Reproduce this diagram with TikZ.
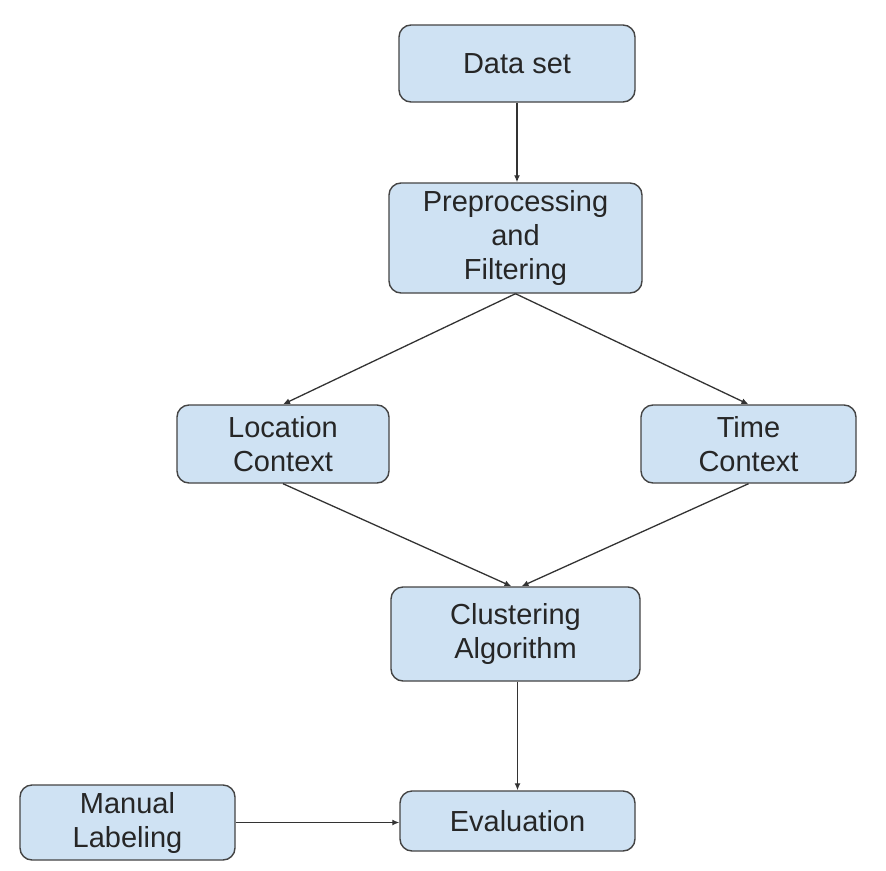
\documentclass[tikz,border=0pt]{standalone}
\usepackage{fontspec}
\setmainfont{Liberation Sans}
\usetikzlibrary{arrows.meta}
\definecolor{boxfill}{HTML}{CFE2F3}
\definecolor{boxline}{HTML}{444444}
\begin{document}
\begin{tikzpicture}[x=1pt,y=-1pt,
  box/.style={draw=boxline, line width=1.4pt, fill=boxfill, rounded corners=12pt,
    align=center, font=\fontsize{29}{34}\selectfont, text=black!85, inner sep=0pt},
  conn/.style={draw=black!80, line width=1.3pt, -{Latex[length=7pt,width=6pt]}}]
\useasboundingbox (0,0) rectangle (886,870);
\node[box, minimum width=236pt, minimum height=77pt] (data) at (517,63.5) {Data set};
\node[box, minimum width=253pt, minimum height=110pt] (prep) at (515.5,238) {Preprocessing\\and\\Filtering};
\node[box, minimum width=212pt, minimum height=78pt] (loc) at (283,444) {Location\\Context};
\node[box, minimum width=215pt, minimum height=78pt] (time) at (748.5,444) {Time\\Context};
\node[box, minimum width=249pt, minimum height=94pt] (clus) at (515.5,634) {Clustering\\Algorithm};
\node[box, minimum width=235pt, minimum height=60pt] (eval) at (517.5,821) {Evaluation};
\node[box, minimum width=215pt, minimum height=75pt] (man) at (127.5,822.5) {Manual\\Labeling};
\draw[conn] (data.south) -- (data.south |- prep.north);
\draw[conn] (prep.south) -- (loc.north);
\draw[conn] (prep.south) -- (time.north);
\draw[conn] (loc.south) -- ([xshift=-4pt]clus.north);
\draw[conn] (time.south) -- ([xshift=6pt]clus.north);
\draw[conn] (eval.north |- clus.south) -- (eval.north);
\draw[conn] (man.east) -- (man.east -| eval.west);
\end{tikzpicture}
\end{document}
